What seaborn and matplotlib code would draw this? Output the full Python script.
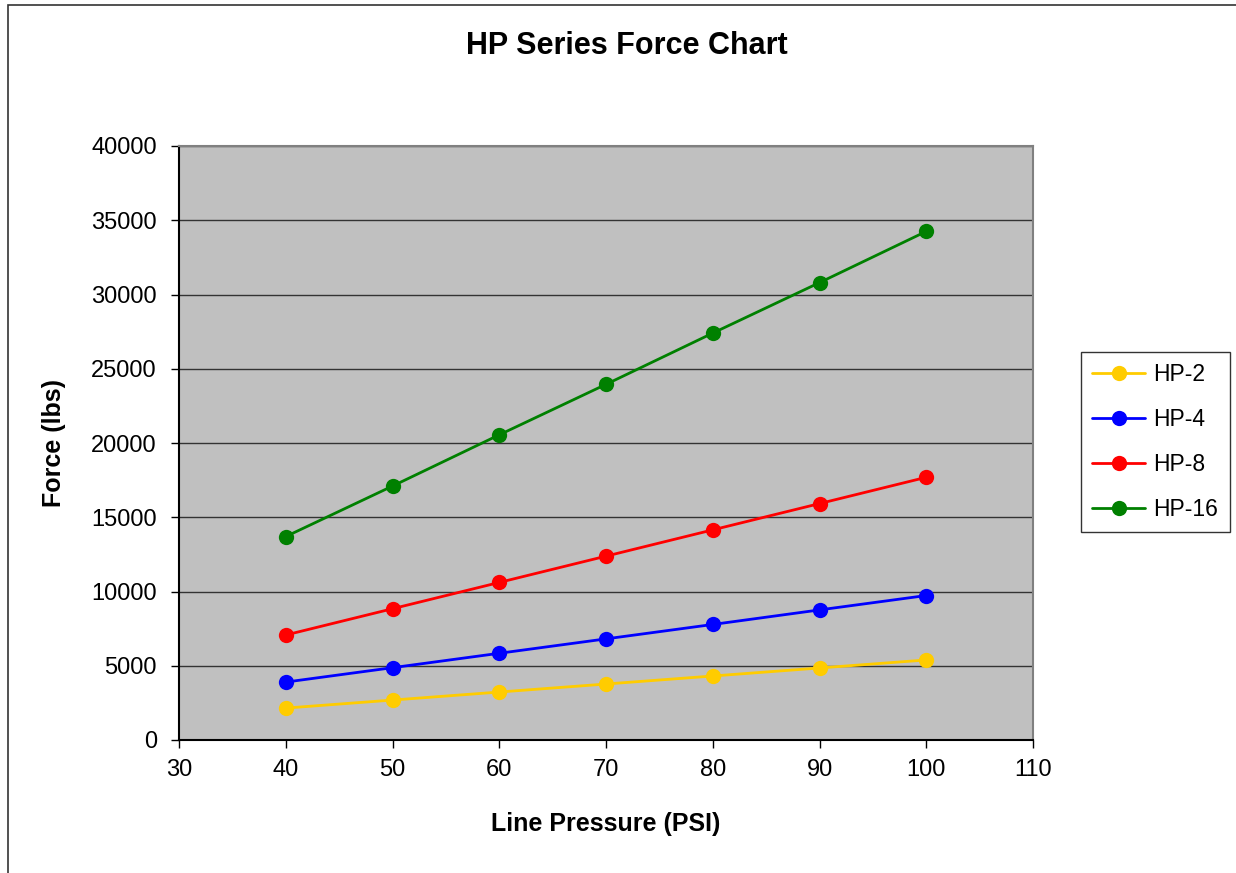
import matplotlib
matplotlib.use("Agg")
import matplotlib.pyplot as plt
import pandas as pd
import seaborn as sns
from matplotlib.patches import Rectangle

# line pressure (PSI) and force (lbs)
pressure = [40, 50, 60, 70, 80, 90, 100]
hp2 = [2150, 2690, 3230, 3770, 4310, 4850, 5390]
hp4 = [3900, 4870, 5840, 6810, 7780, 8760, 9730]
hp8 = [7070, 8840, 10610, 12380, 14150, 15920, 17690]
hp16 = [13700, 17100, 20550, 23950, 27400, 30800, 34250]
series = ["HP-2", "HP-4", "HP-8", "HP-16"]
colors = ["#FFCC00", "#0000FF", "#FF0000", "#008000"]

df = pd.DataFrame({
    "pressure": pressure * 4,
    "force": hp2 + hp4 + hp8 + hp16,
    "series": [s for s in series for _ in pressure],
})

sns.set_style("white")
plt.rcParams["font.family"] = ["Liberation Sans", "DejaVu Sans"]
plt.rcParams["text.color"] = "black"
plt.rcParams["axes.labelcolor"] = "black"

fig = plt.figure(figsize=(12.36, 8.73), dpi=100)
ax = fig.add_axes([179 / 1236, 133 / 873, 854 / 1236, 594 / 873])
ax.set_facecolor("#C0C0C0")

sns.lineplot(data=df, x="pressure", y="force", hue="series", hue_order=series,
             palette=colors, marker="o", markersize=11, markeredgewidth=0,
             linewidth=2, ax=ax, legend=True)

ax.set_xlim(30, 110)
ax.set_ylim(0, 40000)
ax.set_xticks(range(30, 111, 10))
ax.set_yticks(range(0, 40001, 5000))
ax.yaxis.grid(True, color="#333333", linewidth=1)
ax.set_axisbelow(True)
ax.tick_params(axis="both", direction="out", length=6, width=1, colors="black",
               labelsize=17, left=True, bottom=True)
ax.tick_params(axis="y", pad=10)
ax.tick_params(axis="x", pad=8)
for side in ["left", "bottom"]:
    ax.spines[side].set_color("black")
    ax.spines[side].set_linewidth(1.5)
for side in ["top", "right"]:
    ax.spines[side].set_color("#808080")
    ax.spines[side].set_linewidth(1.5)

ax.set_xlabel("Line Pressure (PSI)", fontsize=18, fontweight="bold", labelpad=22)
ax.set_ylabel("Force (lbs)", fontsize=18, fontweight="bold", labelpad=18)
fig.text(627 / 1236, 1 - 46 / 873, "HP Series Force Chart", fontsize=22,
         fontweight="bold", ha="center", va="center")

handles, labels = ax.get_legend_handles_labels()
for h in handles:
    h.set_markersize(11)
leg = ax.legend(handles, labels, loc="upper left",
                bbox_to_anchor=(1081 / 1236, 1 - 352 / 873),
                bbox_transform=fig.transFigure, fontsize=16.5, frameon=True,
                fancybox=False, edgecolor="black", handlelength=2.3,
                labelspacing=0.95, borderpad=0.5, borderaxespad=0,
                handletextpad=0.35, labelcolor="black")
leg.get_frame().set_linewidth(1)

fig.patches.append(Rectangle((8 / 1236, -0.1), 1.2, 1.1 - 5 / 873,
                             transform=fig.transFigure, fill=False,
                             edgecolor="#333333", linewidth=1.2))

fig.savefig("out.png", dpi=100)
